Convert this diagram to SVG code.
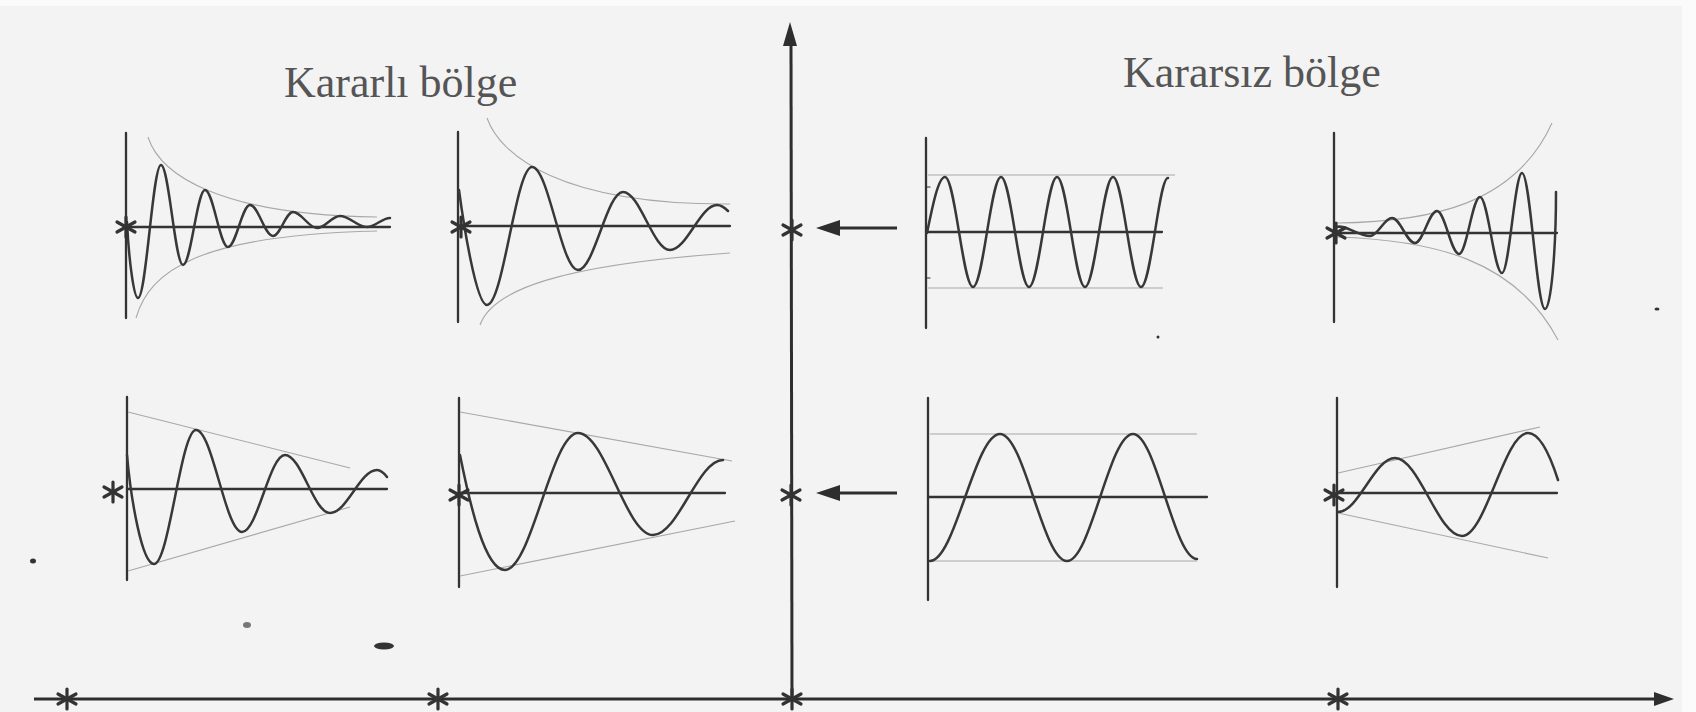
<svg xmlns="http://www.w3.org/2000/svg" width="1696" height="712" viewBox="0 0 1696 712">
<style>
.bg{fill:#f3f3f3}
.title{font-family:"Liberation Serif","Times New Roman",serif;font-size:44px;fill:#555}
.ax{stroke:#333;stroke-width:2.3;fill:none;stroke-linecap:round}
.big{stroke:#2e2e2e;stroke-width:3;fill:none}
.wave{stroke:#383838;stroke-width:2.5;fill:none;stroke-linecap:round;stroke-linejoin:round}
.env{stroke:#a8a8a8;stroke-width:1.1;fill:none}
.star{stroke:#333;stroke-width:3.2;stroke-linecap:round}
.head{fill:#2e2e2e}
.speck{fill:#333}
</style>
<defs>
<g id="ast" class="star">
<line x1="0" y1="-10" x2="0" y2="10"/>
<line x1="-9" y1="-5" x2="9" y2="5"/>
<line x1="-9" y1="5" x2="9" y2="-5"/>
</g>
</defs>
<rect x="0" y="0" width="1696" height="712" fill="#fbfbfb"/>
<rect class="bg" x="0" y="6" width="1682" height="706"/>

<g id="title-stable"><text class="title" x="284" y="97">Kararlı bölge</text></g>
<g id="title-unstable"><text class="title" x="1123" y="87">Kararsız bölge</text></g>

<g id="axes">
<line class="big" x1="34" y1="699" x2="1656" y2="699"/>
<polygon class="head" points="1674,699 1654,692 1654,706"/>
<line class="big" x1="792" y1="699" x2="791" y2="42"/>
<polygon class="head" points="790,22 783,46 797,46"/>
<use href="#ast" x="67" y="699"/>
<use href="#ast" x="438" y="699"/>
<use href="#ast" x="792" y="699"/>
<use href="#ast" x="1338" y="699"/>
<use href="#ast" x="792" y="230"/>
<use href="#ast" x="791" y="495"/>
</g>

<g id="connectors">
<line class="big" x1="897" y1="228" x2="836" y2="228"/>
<polygon class="head" points="816,228 840,220 840,236"/>
<line class="big" x1="897" y1="493" x2="836" y2="493"/>
<polygon class="head" points="816,493 840,485 840,501"/>
</g>

<g id="plot-top-1">
<line class="ax" x1="126" y1="133" x2="126" y2="318"/>
<line class="ax" x1="126" y1="227" x2="390" y2="227"/>
<path class="env" d="M148,137 C160,175 220,215 377,217"/>
<path class="env" d="M136,318 C150,270 200,235 377,231"/>
<path class="wave" d="M127,222 C129,262 134,298 138,298 C146.3,298 152.7,165 161,165 C168.9,165 175.1,265 183,265 C190.9,265 197.1,190 205,190 C213.3,190 219.7,247 228,247 C235.9,247 242.1,205 250,205 C258.3,205 264.7,236 273,236 C280.2,236 285.8,212 293,212 C301.6,212 308.4,228 317,228 C325.3,228 331.7,216 340,216 C349.7,216 357.3,227 367,227 C375,227 382,218 390,218"/>
<use href="#ast" x="126" y="227"/>
</g>

<g id="plot-top-2">
<line class="ax" x1="458" y1="132" x2="458" y2="322"/>
<line class="ax" x1="458" y1="226" x2="730" y2="226"/>
<path class="env" d="M487,118 C500,155 560,205 730,204"/>
<path class="env" d="M480,325 C492,290 560,265 730,253"/>
<path class="wave" d="M459,190 C463,220 476,305 487,305 C503.2,305 515.8,167 532,167 C548.6,167 561.4,270 578,270 C594.2,270 606.8,192 623,192 C639.9,192 653.1,250 670,250 C686.9,250 700.1,205 717,205 C721,205 725,208 728,211"/>
<use href="#ast" x="461" y="227"/>
</g>

<g id="plot-top-3">
<line class="ax" x1="926" y1="138" x2="926" y2="328"/>
<line class="ax" x1="926" y1="232" x2="1162" y2="232"/>
<line class="ax" x1="926" y1="187" x2="930" y2="187" style="stroke-width:1.2"/>
<line class="ax" x1="926" y1="278" x2="930" y2="278" style="stroke-width:1.2"/>
<line class="env" x1="928" y1="175" x2="1175" y2="175"/>
<line class="env" x1="928" y1="288" x2="1163" y2="288"/>
<path class="wave" d="M927,233 C932.9,204 938.5,177 945,177 C955.1,177 962.9,287 973,287 C983.1,287 990.9,177 1001,177 C1011.1,177 1018.9,287 1029,287 C1039.1,287 1046.9,177 1057,177 C1067.1,177 1074.9,287 1085,287 C1095.1,287 1102.9,177 1113,177 C1123.1,177 1130.9,287 1141,287 C1151.1,287 1158.9,177 1168,178"/>
</g>

<g id="plot-top-4">
<line class="ax" x1="1334" y1="133" x2="1334" y2="322"/>
<line class="ax" x1="1334" y1="233" x2="1557" y2="233"/>
<path class="env" d="M1337,223 C1430,222 1515,205 1552,123"/>
<path class="env" d="M1337,237 C1430,240 1515,258 1558,340"/>
<path class="wave" d="M1336,227 C1345,224 1358,236 1370,236 C1377.9,236 1384.1,218 1392,218 C1400.3,218 1406.7,243 1415,243 C1422.9,243 1429.1,211 1437,211 C1444.9,211 1451.1,254 1459,254 C1466.6,254 1472.4,197 1480,197 C1487.9,197 1494.1,273 1502,273 C1509.2,273 1514.8,173 1522,173 C1530.3,173 1536.7,309 1545,309 C1551,309 1556,250 1556,192"/>
<use href="#ast" x="1336" y="233"/>
</g>

<g id="plot-bottom-1">
<line class="ax" x1="127" y1="397" x2="127" y2="580"/>
<line class="ax" x1="127" y1="489" x2="387" y2="489"/>
<line class="env" x1="128" y1="412" x2="350" y2="468"/>
<line class="env" x1="128" y1="571" x2="350" y2="507"/>
<path class="wave" d="M127,455 C131,500 142,564 154,564 C169.1,564 180.9,430 196,430 C212.6,430 225.4,532 242,532 C257.5,532 269.5,455 285,455 C301.2,455 313.8,513 330,513 C346.9,513 360.1,470 377,470 C381,470 384,473 387,477"/>
<use href="#ast" x="113" y="492"/>
</g>

<g id="plot-bottom-2">
<line class="ax" x1="459" y1="398" x2="459" y2="587"/>
<line class="ax" x1="459" y1="493" x2="725" y2="493"/>
<line class="env" x1="460" y1="412" x2="732" y2="461"/>
<line class="env" x1="460" y1="576" x2="735" y2="521"/>
<path class="wave" d="M460,455 C470,505 485,570 505,570 C531.3,570 551.7,433 578,433 C605,433 626,535 653,535 C678.2,535 697.8,460 723,460"/>
<use href="#ast" x="459" y="495"/>
</g>

<g id="plot-bottom-3">
<line class="ax" x1="928" y1="398" x2="928" y2="600"/>
<line class="ax" x1="928" y1="497" x2="1207" y2="497"/>
<line class="env" x1="930" y1="434" x2="1197" y2="434"/>
<line class="env" x1="930" y1="561" x2="1197" y2="561"/>
<path class="wave" d="M930,561 C955.2,561 974.8,434 1000,434 C1024.1,434 1042.9,561 1067,561 C1090.8,561 1109.2,434 1133,434 C1156,434 1174,559 1197,559"/>
</g>

<g id="plot-bottom-4">
<line class="ax" x1="1337" y1="398" x2="1337" y2="587"/>
<line class="ax" x1="1337" y1="493" x2="1557" y2="493"/>
<line class="env" x1="1338" y1="473" x2="1540" y2="427"/>
<line class="env" x1="1338" y1="513" x2="1548" y2="558"/>
<path class="wave" d="M1338,512 C1358.5,512 1374.5,458 1395,458 C1419.1,458 1437.9,536 1462,536 C1485.8,536 1504.2,433 1528,433 C1540,433 1550,455 1558,480"/>
<use href="#ast" x="1334" y="495"/>
</g>

<g id="specks">
<ellipse class="speck" cx="384" cy="646" rx="10" ry="3.5"/>
<ellipse class="speck" cx="33" cy="561" rx="3" ry="2.5"/>
<ellipse class="speck" cx="247" cy="625" rx="4" ry="3" style="fill:#777"/>
<ellipse class="speck" cx="1657" cy="309" rx="2.5" ry="1.5"/>
<ellipse class="speck" cx="1158" cy="337" rx="1.5" ry="1.5"/>
</g>
</svg>
